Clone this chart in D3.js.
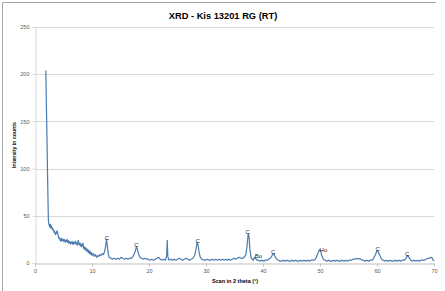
<!DOCTYPE html>
<html>
<head>
<meta charset="utf-8">
<script src="https://cdn.jsdelivr.net/npm/d3@7"></script>
<style>
  html, body { margin: 0; padding: 0; background: #fff; }
  svg { display: block; font-family: "Liberation Sans", Arial, sans-serif; }
</style>
</head>
<body>
<svg id="chart" width="445" height="291"></svg>
<script>
// scan: [2 theta, counts]
var scan = [
  [1.9,204],[2.05,150],[2.2,95],[2.3,60],[2.35,45],[2.45,41],[2.5,40],[2.6,38],[2.7,41],[2.8,37],[2.9,39],
  [3.0,36],[3.1,37],[3.2,34],[3.3,35],[3.4,32],[3.5,33],[3.6,30],[3.7,31],[3.8,33],[3.9,34],
  [4.0,31],[4.1,28],[4.2,26],[4.3,27],[4.4,24],[4.5,25],[4.6,23],[4.7,26],[4.8,24],[4.9,25],
  [5.0,23],[5.1,25],[5.2,24],[5.3,22],[5.4,24],[5.5,23],[5.6,25],[5.7,22],[5.8,24],[5.9,21],
  [6.0,23],[6.1,22],[6.2,20],[6.3,22],[6.4,21],[6.5,23],[6.6,20],[6.7,22],[6.8,20],[6.9,22],
  [7.0,21],[7.1,23],[7.2,20],[7.3,21],[7.4,19],[7.5,22],[7.6,24],[7.7,20],[7.8,19],[7.9,21],
  [8.0,18],[8.1,20],[8.2,17],[8.3,19],[8.4,21],[8.5,17],[8.6,15],[8.7,17],[8.8,14],[8.9,16],
  [9.0,13],[9.1,15],[9.2,12],[9.3,14],[9.4,11],[9.5,13],[9.6,10],[9.7,12],[9.8,9],[9.9,11],
  [10.0,8],[10.2,10],[10.4,7],[10.6,9],[10.8,6],[11.0,8],[11.2,7],[11.4,9],[11.6,8],[11.8,10],
  [12.0,9],[12.2,12],[12.4,18],[12.55,25],[12.7,18],[12.85,10],[13.0,6],[13.3,5],[13.6,4],[13.9,5],
  [14.2,4],[14.5,5],[14.8,4],[15.1,6],[15.4,5],[15.7,4],[16.0,5],[16.3,4],[16.6,5],[16.9,5],
  [17.2,7],[17.5,11],[17.8,17],[18.0,14],[18.2,9],[18.4,6],[18.7,5],[19.0,4],[19.3,5],[19.6,4],
  [19.9,4],[20.2,3],[20.5,4],[20.8,3],[21.1,4],[21.4,5],[21.7,6],[22.0,4],[22.3,3],[22.6,4],
  [22.9,3],[23.1,8],[23.2,24],[23.3,7],[23.5,3],[23.8,4],[24.1,3],[24.4,4],[24.7,3],[25.0,4],
  [25.3,5],[25.6,4],[25.9,3],[26.2,4],[26.5,5],[26.8,4],[27.1,3],[27.4,4],[27.7,5],[28.0,8],
  [28.2,13],[28.45,22],[28.6,19],[28.8,11],[29.0,6],[29.3,4],[29.6,3],[29.9,3],[30.2,4],[30.5,3],
  [30.8,3],[31.1,4],[31.4,3],[31.7,4],[32.0,3],[32.3,4],[32.6,3],[32.9,4],[33.2,3],[33.5,4],
  [33.8,3],[34.0,4],[34.3,3],[34.6,4],[34.9,5],[35.2,4],[35.5,5],[35.8,6],[36.1,5],[36.4,5],
  [36.7,6],[37.0,9],[37.2,18],[37.4,31],[37.55,28],[37.7,14],[37.9,6],[38.1,4],[38.3,3],[38.5,6],
  [38.7,5],[38.9,3],[39.2,3],[39.5,2],[39.8,3],[40.1,2],[40.4,3],[40.7,3],[41.0,4],[41.3,5],
  [41.6,8],[41.85,10],[42.1,7],[42.4,4],[42.7,3],[43.0,2],[43.3,2],[43.6,3],[43.9,2],[44.2,3],
  [44.5,2],[44.8,2],[45.1,3],[45.4,2],[45.7,3],[46.0,2],[46.3,2],[46.6,3],[46.9,2],[47.2,3],
  [47.5,2],[47.8,3],[48.1,2],[48.4,3],[48.7,3],[49.0,3],[49.3,5],[49.6,10],[49.9,14],[50.1,13],
  [50.3,8],[50.6,4],[50.9,3],[51.2,2],[51.5,3],[51.8,2],[52.1,2],[52.4,3],[52.7,2],[53.0,3],
  [53.3,2],[53.6,2],[53.9,3],[54.2,2],[54.5,3],[54.8,2],[55.1,3],[55.5,3],[55.8,4],[56.1,4],
  [56.4,5],[56.7,4],[57.0,5],[57.3,3],[57.6,3],[57.9,2],[58.2,3],[58.5,2],[58.8,3],[59.2,3],
  [59.5,6],[59.8,10],[60.0,13],[60.2,12],[60.5,8],[60.8,4],[61.1,3],[61.4,2],[61.7,3],[62.0,2],
  [62.3,3],[62.6,2],[62.9,2],[63.2,3],[63.5,2],[63.8,3],[64.1,2],[64.4,3],[64.8,3],[65.1,5],
  [65.35,8],[65.6,6],[65.9,3],[66.2,2],[66.5,3],[66.8,2],[67.1,3],[67.4,2],[67.7,3],[68.0,3],
  [68.3,3],[68.6,4],[68.9,5],[69.2,5],[69.5,6],[69.7,5],[69.85,3],[70.0,2]
];

// peak labels
var peakLabels = ["C", "C", "C", "C", "Bo", "C", "Ho", "C", "C"];
var peakTheta  = [12.6, 17.8, 28.55, 37.3, 39.2, 41.8, 50.6, 60.1, 65.3];
var peakCount  = [25, 18, 22, 32, 6, 11, 13, 14, 8];

var xTicks = [0, 10, 20, 30, 40, 50, 60, 70];
var yTicks = [0, 50, 100, 150, 200, 250];

var svg = d3.select("#chart");

// outer frame (left + top)
svg.append("path")
    .attr("d", "M2.5,291 V2.5 H436")
    .attr("fill", "none")
    .attr("stroke", "#a6a6a6")
    .attr("stroke-width", 1);

var x = d3.scaleLinear().domain([0, 70]).range([35, 434]);
var y = d3.scaleLinear().domain([0, 250]).range([263, 27]);

// gridlines
svg.append("g")
    .selectAll("line")
    .data(yTicks.filter(function(d) { return d > 0; }))
    .enter().append("line")
    .attr("x1", 35).attr("x2", 434)
    .attr("y1", function(d) { return Math.round(y(d)) + 0.5; })
    .attr("y2", function(d) { return Math.round(y(d)) + 0.5; })
    .attr("stroke", "#d9d9d9");

// y axis
var yAxis = svg.append("g")
    .attr("transform", "translate(35.5,0)")
    .call(d3.axisLeft(y).tickValues(yTicks).tickSize(3).tickPadding(3));
yAxis.select(".domain").attr("stroke", "#d9d9d9");
yAxis.selectAll(".tick line").attr("stroke", "#d9d9d9");
yAxis.selectAll("text").attr("fill", "#595959").style("font-size", "5.5px");

// x axis
var xAxis = svg.append("g")
    .attr("transform", "translate(0,263.5)")
    .call(d3.axisBottom(x).tickValues(xTicks).tickSize(3).tickPadding(3));
xAxis.select(".domain").attr("stroke", "#bfbfbf");
xAxis.selectAll(".tick line").attr("stroke", "#bfbfbf");
xAxis.selectAll("text").attr("fill", "#595959").style("font-size", "5.5px");

// scan line
var line = d3.line()
    .x(function(d) { return x(d[0]); })
    .y(function(d) { return y(d[1]); });

svg.append("path")
    .datum(scan)
    .attr("d", line)
    .attr("fill", "none")
    .attr("stroke", "#4a7bb0")
    .attr("stroke-width", 1.2)
    .attr("stroke-linejoin", "round");

// peak labels
svg.append("g")
    .selectAll("text")
    .data(peakLabels)
    .enter().append("text")
    .attr("x", function(d, i) { return x(peakTheta[i]); })
    .attr("y", function(d, i) { return y(peakCount[i]) + 1; })
    .attr("text-anchor", "middle")
    .style("font-size", "6px")
    .attr("fill", "#262626")
    .text(function(d) { return d; });

// titles
svg.append("text")
    .attr("x", 223).attr("y", 18.5)
    .attr("text-anchor", "middle")
    .style("font-size", "9.3px")
    .style("font-weight", "bold")
    .attr("fill", "#000")
    .text("XRD - Kis 13201 RG (RT)");

svg.append("text")
    .attr("transform", "translate(16,145) rotate(-90)")
    .attr("text-anchor", "middle")
    .style("font-size", "5.2px")
    .style("font-weight", "bold")
    .attr("fill", "#000")
    .text("Intensity in counts");

svg.append("text")
    .attr("x", 235).attr("y", 283)
    .attr("text-anchor", "middle")
    .style("font-size", "5.5px")
    .style("font-weight", "bold")
    .attr("fill", "#000")
    .text("Scan in 2 theta (°)");
</script>
</body>
</html>
